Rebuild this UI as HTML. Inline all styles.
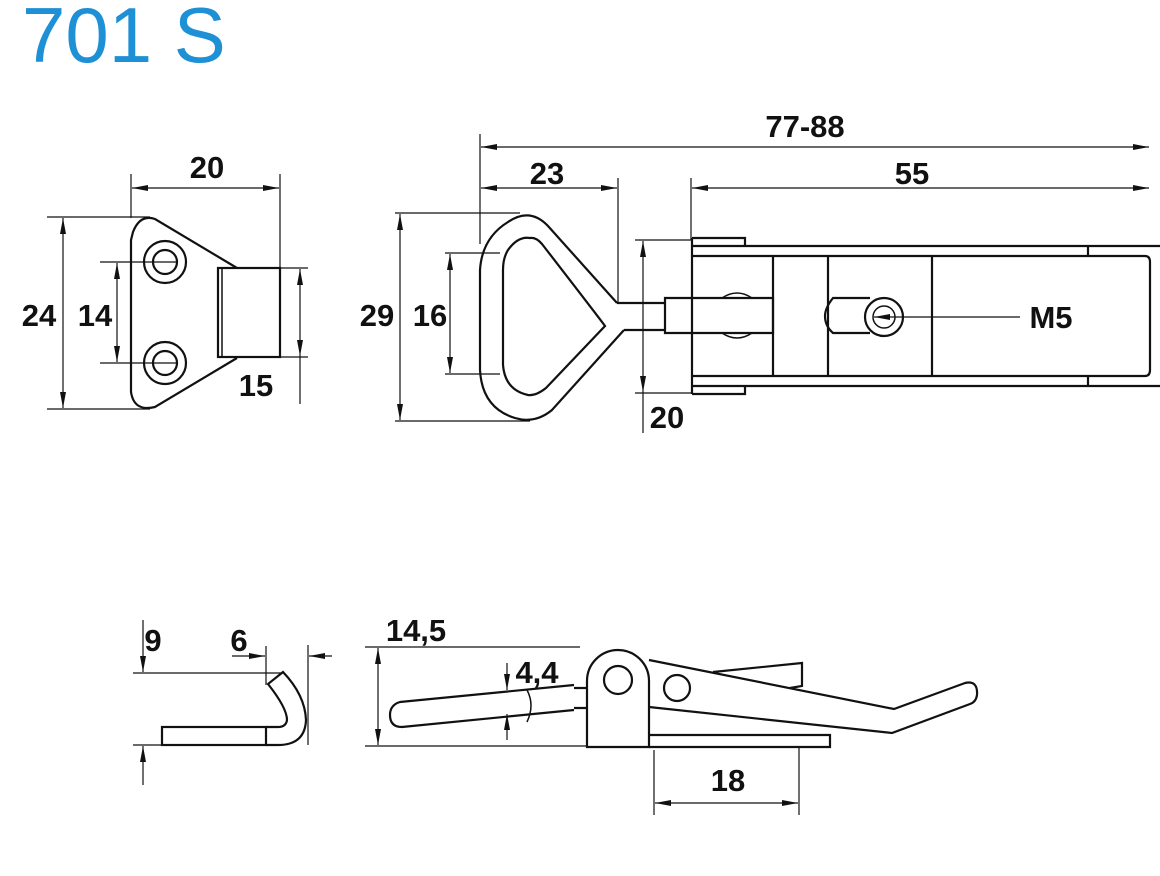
<!DOCTYPE html>
<html><head><meta charset="utf-8"><style>
html,body{margin:0;padding:0;background:#fff;}
svg{display:block}
.t{font-family:"Liberation Sans Narrow","Liberation Sans",sans-serif;font-weight:bold;font-size:31px;fill:#111;text-anchor:middle}
</style></head><body>
<svg width="1160" height="876" viewBox="0 0 1160 876" xmlns="http://www.w3.org/2000/svg">
<defs>
<marker id="a" viewBox="0 0 16 6" refX="16" refY="3" markerWidth="16" markerHeight="6" markerUnits="userSpaceOnUse" orient="auto-start-reverse"><path d="M0,0 L16,3 L0,6 Z" fill="#111"/></marker>
</defs>
<text x="22" y="62" font-family="Liberation Sans, sans-serif" font-size="78" fill="#1e90d6">701 S</text>

<g fill="none" stroke="#111" stroke-width="1.2">
<line x1="131" y1="174" x2="131" y2="218"/><line x1="280" y1="174" x2="280" y2="268"/>
<line x1="132" y1="188" x2="279" y2="188" marker-start="url(#a)" marker-end="url(#a)"/>
<line x1="47" y1="217" x2="150" y2="217"/><line x1="47" y1="409" x2="150" y2="409"/>
<line x1="63" y1="218" x2="63" y2="408" marker-start="url(#a)" marker-end="url(#a)"/>
<line x1="100" y1="262" x2="178" y2="262"/><line x1="100" y1="363" x2="178" y2="363"/>
<line x1="117" y1="263" x2="117" y2="362" marker-start="url(#a)" marker-end="url(#a)"/>
<line x1="280" y1="268" x2="308" y2="268"/><line x1="280" y1="357" x2="308" y2="357"/>
<line x1="300" y1="269" x2="300" y2="356" marker-start="url(#a)" marker-end="url(#a)"/>
<line x1="300" y1="356" x2="300" y2="404"/>
</g>
<g fill="none" stroke="#111" stroke-width="2.2">
<path d="M237,268 L155,219 Q140,214 133,232 L131,240 L131,392 Q134,412 155,407 L237,358"/>
<rect x="218" y="268" width="62" height="89"/>
<line x1="222" y1="268" x2="222" y2="357" stroke-width="1.5"/>
<circle cx="165" cy="262" r="21"/><circle cx="165" cy="262" r="12"/>
<circle cx="165" cy="363" r="21"/><circle cx="165" cy="363" r="12"/>
</g>
<text class="t" x="207" y="178">20</text>
<text class="t" x="39" y="326">24</text>
<text class="t" x="95" y="326">14</text>
<text class="t" x="256" y="396">15</text>

<g fill="none" stroke="#111" stroke-width="1.2">
<line x1="480" y1="134" x2="480" y2="244"/>
<line x1="481" y1="147" x2="1149" y2="147" marker-start="url(#a)" marker-end="url(#a)"/>
<line x1="618" y1="178" x2="618" y2="302"/>
<line x1="481" y1="188" x2="617" y2="188" marker-start="url(#a)" marker-end="url(#a)"/>
<line x1="691" y1="178" x2="691" y2="240"/>
<line x1="692" y1="188" x2="1149" y2="188" marker-start="url(#a)" marker-end="url(#a)"/>
<line x1="395" y1="213" x2="520" y2="213"/><line x1="395" y1="421" x2="530" y2="421"/>
<line x1="400" y1="214" x2="400" y2="420" marker-start="url(#a)" marker-end="url(#a)"/>
<line x1="445" y1="253" x2="500" y2="253"/><line x1="445" y1="374" x2="500" y2="374"/>
<line x1="450" y1="254" x2="450" y2="373" marker-start="url(#a)" marker-end="url(#a)"/>
<line x1="635" y1="240" x2="692" y2="240"/><line x1="635" y1="393" x2="692" y2="393"/>
<line x1="643" y1="241" x2="643" y2="392" marker-start="url(#a)" marker-end="url(#a)"/>
<line x1="643" y1="392" x2="643" y2="433"/>
<line x1="1020" y1="317" x2="874" y2="317" marker-end="url(#a)"/>
</g>
<text class="t" x="805" y="137">77-88</text>
<text class="t" x="547" y="184">23</text>
<text class="t" x="912" y="184">55</text>
<text class="t" x="377" y="326">29</text>
<text class="t" x="430" y="326">16</text>
<text class="t" x="667" y="428">20</text>
<text class="t" x="1051" y="328">M5</text>

<g fill="none" stroke="#111" stroke-width="2.2">
<path d="M617,303 L548,226 Q530,207 508,222 Q482,238 480,270 L480,370 Q482,408 515,418 Q535,424 552,410 L624,330"/>
<path d="M530,238 Q518,236 508,250 Q503,258 503,270 L503,365 Q505,390 528,395 Q536,396 546,388 L605,326 Q600,319 542,244 Q536,237 530,238 Z"/>
<line x1="617" y1="303" x2="665" y2="303"/><line x1="624" y1="330" x2="665" y2="330"/>
<path d="M665,298 L773,298 L773,333 L665,333 Z"/>
<path d="M692,246 L1160,246 M692,386 L1160,386 M692,238 L692,394"/>
<path d="M692,238 L745,238 L745,246 M692,394 L745,394 L745,386"/>
<path d="M692,256 L1088,256 M692,376 L1088,376 M1088,246 L1088,256 M1088,376 L1088,386"/>
<path d="M1088,256 L1145,256 Q1150,256 1150,262 L1150,370 Q1150,376 1145,376 L1088,376"/>
<line x1="773" y1="256" x2="773" y2="376"/><line x1="828" y1="256" x2="828" y2="376"/><line x1="932" y1="256" x2="932" y2="376"/>
<path d="M870,298 L833,298 Q825,308 825,316 Q825,326 833,333 L870,333"/>
<circle cx="884" cy="317" r="19"/><circle cx="884" cy="317" r="11" stroke-width="1.5"/>
<path d="M722,298 Q737,288 752,298 M722,333 Q737,343 752,333" stroke-width="1.5"/>
</g>

<g fill="none" stroke="#111" stroke-width="1.2">
<line x1="133" y1="673" x2="283" y2="673"/><line x1="133" y1="745" x2="162" y2="745"/>
<line x1="143" y1="620" x2="143" y2="672" marker-end="url(#a)"/>
<line x1="143" y1="785" x2="143" y2="746" marker-end="url(#a)"/>
<line x1="266" y1="646" x2="266" y2="685"/><line x1="308" y1="645" x2="308" y2="745"/>
<line x1="232" y1="656" x2="265" y2="656" marker-end="url(#a)"/>
<line x1="332" y1="656" x2="309" y2="656" marker-end="url(#a)"/>
</g>
<text class="t" x="153" y="651">9</text>
<text class="t" x="239" y="651">6</text>
<g fill="none" stroke="#111" stroke-width="2.2">
<rect x="162" y="727" width="104" height="18"/>
<path d="M266,745 L278,745 Q305,745 306,720 Q305,695 283,672 L268,684 Q287,708 287,720 Q286,727 278,727 L266,727"/>
</g>

<g fill="none" stroke="#111" stroke-width="1.2">
<line x1="365" y1="647" x2="580" y2="647"/><line x1="365" y1="746" x2="588" y2="746"/>
<line x1="378" y1="700" x2="378" y2="648" marker-end="url(#a)"/>
<line x1="378" y1="700" x2="378" y2="745" marker-end="url(#a)"/>
<line x1="507" y1="663" x2="507" y2="690" marker-end="url(#a)"/>
<line x1="507" y1="740" x2="507" y2="714" marker-end="url(#a)"/>
<line x1="654" y1="750" x2="654" y2="815"/><line x1="799" y1="748" x2="799" y2="815"/>
<line x1="655" y1="803" x2="798" y2="803" marker-start="url(#a)" marker-end="url(#a)"/>
</g>
<text class="t" x="416" y="641">14,5</text>
<text class="t" x="537" y="683">4,4</text>
<text class="t" x="728" y="791">18</text>
<g fill="none" stroke="#111" stroke-width="2.2">
<path d="M587,747 L587,681 A31,31 0 0 1 649,681 L649,747 Z"/>
<circle cx="618" cy="680" r="14"/>
<path d="M649,735 L830,735 L830,747 L649,747"/>
<path d="M649,660 L894,709 L965,683 Q978,680 977,695 Q976,702 970,704 L892,733 L649,707"/>
<circle cx="677" cy="688" r="13"/>
<path d="M713,672 L802,663 L802,686 L790,688"/>
<path d="M574,685 L400,702 Q390,705 390,715 Q390,727 402,727 L574,710"/>
<path d="M527,690 Q535,705 527,722" stroke-width="1.5"/>
<path d="M574,688 L587,688 M574,708 L587,708"/>
</g>
</svg>
</body></html>
